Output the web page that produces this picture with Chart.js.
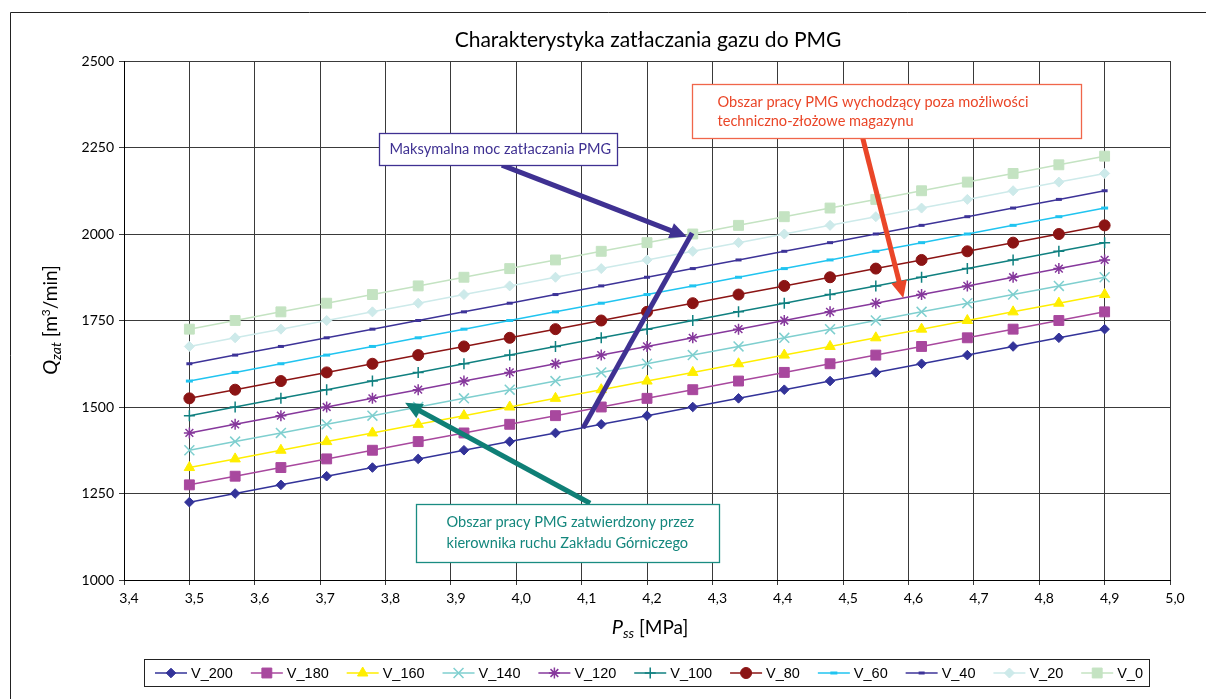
<!DOCTYPE html>
<html>
<head>
<meta charset="utf-8">
<script src="https://cdn.jsdelivr.net/npm/chart.js@4.4.0/dist/chart.umd.min.js"></script>
<style>
  html, body { margin: 0; padding: 0; background: #fff; }
  #wrap { width: 1206px; height: 699px; }
</style>
</head>
<body>
<div id="wrap"><canvas id="chart" width="1206" height="699"></canvas></div>
<script>
// dane
const pressure = [3.50, 3.57, 3.64, 3.71, 3.78, 3.85, 3.92, 3.99, 4.06, 4.13, 4.20,
                  4.27, 4.34, 4.41, 4.48, 4.55, 4.62, 4.69, 4.76, 4.83, 4.90];

const v200 = [1225, 1250, 1275, 1300, 1325, 1350, 1375, 1400, 1425, 1450, 1475, 1500, 1525, 1550, 1575, 1600, 1625, 1650, 1675, 1700, 1725];
const v180 = [1275, 1300, 1325, 1350, 1375, 1400, 1425, 1450, 1475, 1500, 1525, 1550, 1575, 1600, 1625, 1650, 1675, 1700, 1725, 1750, 1775];
const v160 = [1325, 1350, 1375, 1400, 1425, 1450, 1475, 1500, 1525, 1550, 1575, 1600, 1625, 1650, 1675, 1700, 1725, 1750, 1775, 1800, 1825];
const v140 = [1375, 1400, 1425, 1450, 1475, 1500, 1525, 1550, 1575, 1600, 1625, 1650, 1675, 1700, 1725, 1750, 1775, 1800, 1825, 1850, 1875];
const v120 = [1425, 1450, 1475, 1500, 1525, 1550, 1575, 1600, 1625, 1650, 1675, 1700, 1725, 1750, 1775, 1800, 1825, 1850, 1875, 1900, 1925];
const v100 = [1475, 1500, 1525, 1550, 1575, 1600, 1625, 1650, 1675, 1700, 1725, 1750, 1775, 1800, 1825, 1850, 1875, 1900, 1925, 1950, 1975];
const v80  = [1525, 1550, 1575, 1600, 1625, 1650, 1675, 1700, 1725, 1750, 1775, 1800, 1825, 1850, 1875, 1900, 1925, 1950, 1975, 2000, 2025];
const v60  = [1575, 1600, 1625, 1650, 1675, 1700, 1725, 1750, 1775, 1800, 1825, 1850, 1875, 1900, 1925, 1950, 1975, 2000, 2025, 2050, 2075];
const v40  = [1625, 1650, 1675, 1700, 1725, 1750, 1775, 1800, 1825, 1850, 1875, 1900, 1925, 1950, 1975, 2000, 2025, 2050, 2075, 2100, 2125];
const v20  = [1675, 1700, 1725, 1750, 1775, 1800, 1825, 1850, 1875, 1900, 1925, 1950, 1975, 2000, 2025, 2050, 2075, 2100, 2125, 2150, 2175];
const v0   = [1725, 1750, 1775, 1800, 1825, 1850, 1875, 1900, 1925, 1950, 1975, 2000, 2025, 2050, 2075, 2100, 2125, 2150, 2175, 2200, 2225];

const seriesNames = ['V_200', 'V_180', 'V_160', 'V_140', 'V_120', 'V_100', 'V_80', 'V_60', 'V_40', 'V_20', 'V_0'];
const seriesValues = [v200, v180, v160, v140, v120, v100, v80, v60, v40, v20, v0];

const xTickValues = [3.4, 3.5, 3.6, 3.7, 3.8, 3.9, 4.0, 4.1, 4.2, 4.3, 4.4, 4.5, 4.6, 4.7, 4.8, 4.9, 5.0];
const yTickValues = [1000, 1250, 1500, 1750, 2000, 2250, 2500];

const titleText = 'Charakterystyka zatłaczania gazu do PMG';

// wygląd serii
const seriesStyle = [
    { color: '#333399', point: 'rectRot',  r: 4.8, bw: 1 },
    { color: '#a8489e', point: 'rect',     r: 7,   bw: 1 },
    { color: '#ffee00', point: 'triangle', r: 6,   bw: 1 },
    { color: '#7fcfcf', point: 'crossRot', r: 7,   bw: 1.5 },
    { color: '#86389c', point: 'star',     r: 5.5, bw: 1.5 },
    { color: '#108080', point: 'cross',    r: 5.5, bw: 1.5 },
    { color: '#8b1414', point: 'circle',   r: 5.5, bw: 1 },
    { color: '#20c4f0', point: 'line',     r: 3.5, bw: 3 },
    { color: '#3d3398', point: 'line',     r: 3,   bw: 3 },
    { color: '#cdeaea', point: 'rectRot',  r: 5,   bw: 1 },
    { color: '#c4e3c2', point: 'rect',     r: 7,   bw: 1 }
];

// adnotacje (w jednostkach osi: MPa, m3/min)
const notes = [
    {
        box: [3.790, 2292, 4.154, 2199], color: '#3f3192', border: '#3f3192',
        lines: ['Maksymalna moc zatłaczania PMG'], textDx: 10, textY0: 149, lineH: 19,
        arrows: [{ from: [3.978, 2199], to: [4.261, 1992], head: true },
                 { from: [4.269, 2003], to: [4.102, 1439], head: false }]
    },
    {
        box: [4.269, 2433, 4.864, 2277], color: '#ea4628', border: '#f0664a',
        lines: ['Obszar pracy PMG wychodzący poza możliwości', 'techniczno-złożowe magazynu'],
        textDx: 25, textY0: 102, lineH: 19,
        arrows: [{ from: [4.530, 2277], to: [4.592, 1815], head: true }]
    },
    {
        box: [3.847, 1220, 4.310, 1052], color: '#14877d', border: '#1a8c82',
        lines: ['Obszar pracy PMG zatwierdzony przez', 'kierownika ruchu Zakładu Górniczego'],
        textDx: 30, textY0: 522, lineH: 21,
        arrows: [{ from: [4.113, 1222], to: [3.830, 1512], head: true, color: '#0f7f76' }]
    }
];

const FONT = 'Lato, "Open Sans", sans-serif';

function drawArrow(ctx, x1, y1, x2, y2, color, width, head) {
    const ang = Math.atan2(y2 - y1, x2 - x1);
    const hl = head ? 17 : 0, hw = 8;
    const ex = x2 - Math.cos(ang) * hl, ey = y2 - Math.sin(ang) * hl;
    ctx.save();
    ctx.strokeStyle = color;
    ctx.fillStyle = color;
    ctx.lineWidth = width;
    ctx.lineCap = 'butt';
    ctx.beginPath();
    ctx.moveTo(x1, y1);
    ctx.lineTo(head ? ex + Math.cos(ang) * 2 : x2, head ? ey + Math.sin(ang) * 2 : y2);
    ctx.stroke();
    if (head) {
        ctx.beginPath();
        ctx.moveTo(x2, y2);
        ctx.lineTo(ex + Math.sin(ang) * hw, ey - Math.cos(ang) * hw);
        ctx.lineTo(ex - Math.sin(ang) * hw, ey + Math.cos(ang) * hw);
        ctx.closePath();
        ctx.fill();
    }
    ctx.restore();
}

function drawParts(ctx, parts, cx, cy) {
    let total = 0;
    parts.forEach(p => { ctx.font = p.font; p.w = ctx.measureText(p.t).width; total += p.w; });
    let x = cx - total / 2;
    ctx.textBaseline = 'alphabetic';
    ctx.textAlign = 'left';
    parts.forEach(p => {
        ctx.font = p.font;
        ctx.fillText(p.t, x, cy + (p.dy || 0));
        x += p.w;
    });
}

const framePlugin = {
    id: 'frame',
    beforeDraw(chart) {
        const ctx = chart.ctx;
        ctx.save();
        ctx.fillStyle = '#fff';
        ctx.fillRect(0, 0, chart.width, chart.height);
        ctx.strokeStyle = '#222';
        ctx.lineWidth = 1;
        ctx.beginPath();
        ctx.moveTo(10.5, chart.height);
        ctx.lineTo(10.5, 12.5);
        ctx.lineTo(chart.width, 12.5);
        ctx.stroke();
        ctx.restore();
    },
    afterDraw(chart) {
        const ctx = chart.ctx;
        ctx.save();
        ctx.fillStyle = '#000';
        ctx.font = '21px ' + FONT;
        ctx.textAlign = 'center';
        ctx.textBaseline = 'middle';
        ctx.fillText(titleText, 648, 40);

        // oś X
        drawParts(ctx, [
            { t: 'P', font: 'italic 20px ' + FONT },
            { t: 'ss', font: 'italic 14px ' + FONT, dy: 4 },
            { t: ' [MPa]', font: '19px ' + FONT }
        ], 650, 634);

        // oś Y
        ctx.translate(50, 320);
        ctx.rotate(-Math.PI / 2);
        drawParts(ctx, [
            { t: 'Q', font: 'italic 20px ' + FONT },
            { t: 'zat', font: 'italic 14px ' + FONT, dy: 4 },
            { t: ' [m', font: '19px ' + FONT },
            { t: '3', font: '12px ' + FONT, dy: -7 },
            { t: '/min]', font: '19px ' + FONT }
        ], 0, 7);
        ctx.restore();
    }
};

const notesPlugin = {
    id: 'notes',
    afterDraw(chart) {
        const ctx = chart.ctx;
        const sx = chart.scales.x, sy = chart.scales.y;
        notes.forEach(n => {
            n.arrows.forEach(a => {
                drawArrow(ctx, sx.getPixelForValue(a.from[0]), sy.getPixelForValue(a.from[1]),
                    sx.getPixelForValue(a.to[0]), sy.getPixelForValue(a.to[1]),
                    a.color || n.color, 5, a.head);
            });
        });
        notes.forEach(n => {
            const l = Math.round(sx.getPixelForValue(n.box[0])) + 0.5;
            const t = Math.round(sy.getPixelForValue(n.box[1])) + 0.5;
            const r = Math.round(sx.getPixelForValue(n.box[2])) + 0.5;
            const b = Math.round(sy.getPixelForValue(n.box[3])) + 0.5;
            ctx.save();
            ctx.fillStyle = '#fff';
            ctx.fillRect(l, t, r - l, b - t);
            ctx.strokeStyle = n.border;
            ctx.lineWidth = 1.3;
            ctx.strokeRect(l, t, r - l, b - t);
            ctx.fillStyle = n.color;
            ctx.font = '14.6px ' + FONT;
            ctx.textAlign = 'left';
            ctx.textBaseline = 'middle';
            n.lines.forEach((s, i) => ctx.fillText(s, l + n.textDx, n.textY0 + i * n.lineH));
            ctx.restore();
        });
    }
};

const legendPlugin = {
    id: 'excelLegend',
    afterDraw(chart) {
        const ctx = chart.ctx;
        const boxL = 144.5, boxR = 1149.5, boxT = 659.5, boxB = 686.5;
        ctx.save();
        ctx.fillStyle = '#fff';
        ctx.fillRect(boxL, boxT, boxR - boxL, boxB - boxT);
        ctx.strokeStyle = '#222';
        ctx.lineWidth = 1;
        ctx.strokeRect(boxL, boxT, boxR - boxL, boxB - boxT);
        ctx.font = '14.5px "Liberation Sans", Arial, sans-serif';
        const lineW = 32, gap = 4;
        const widths = seriesNames.map(s => ctx.measureText(s).width);
        const natural = widths.reduce((a, w) => a + lineW + gap + w, 0);
        const start = 155, end = 1143;
        const spacing = (end - start - natural) / (seriesNames.length - 1);
        const cy = (boxT + boxB) / 2;
        let x = start;
        seriesNames.forEach((name, i) => {
            const st = seriesStyle[i];
            ctx.strokeStyle = st.color;
            ctx.lineWidth = 1.5;
            ctx.beginPath();
            ctx.moveTo(x, cy);
            ctx.lineTo(x + lineW, cy);
            ctx.stroke();
            ctx.fillStyle = st.color;
            ctx.lineWidth = st.bw;
            Chart.helpers.drawPoint(ctx, { pointStyle: st.point, radius: st.r, borderWidth: st.bw, rotation: 0 }, x + lineW / 2, cy);
            ctx.fillStyle = '#000';
            ctx.textAlign = 'left';
            ctx.textBaseline = 'middle';
            ctx.fillText(name, x + lineW + gap, cy + 1);
            x += lineW + gap + widths[i] + spacing;
        });
        ctx.restore();
    }
};

const ctx = document.getElementById('chart').getContext('2d');

new Chart(ctx, {
    type: 'line',
    data: {
        datasets: seriesNames.map((name, i) => ({
            label: name,
            data: pressure.map((p, j) => ({ x: p, y: seriesValues[i][j] })),
            borderColor: seriesStyle[i].color,
            backgroundColor: seriesStyle[i].color,
            borderWidth: 1.5,
            pointStyle: seriesStyle[i].point,
            pointRadius: seriesStyle[i].r,
            pointBorderWidth: seriesStyle[i].bw,
            pointBackgroundColor: seriesStyle[i].color,
            pointBorderColor: seriesStyle[i].color,
            fill: false,
            tension: 0
        }))
    },
    options: {
        responsive: false,
        animation: false,
        devicePixelRatio: 1,
        layout: { padding: { left: 0, top: 61, right: 36, bottom: 0 } },
        plugins: {
            legend: { display: false },
            title: { display: false },
            tooltip: { enabled: false }
        },
        scales: {
            x: {
                type: 'linear',
                min: 3.4,
                max: 5.0,
                afterBuildTicks: s => { s.ticks = xTickValues.map(v => ({ value: v })); },
                afterFit: s => { s.height = 119; },
                grid: { color: '#3a3a3a', lineWidth: 1, tickLength: 5, tickColor: '#3a3a3a' },
                border: { color: '#000', width: 1 },
                ticks: {
                    padding: 5,
                    labelOffset: 5,
                    color: '#000',
                    maxRotation: 0,
                    font: { family: FONT, size: 14 },
                    callback: v => v.toFixed(1).replace('.', ',')
                }
            },
            y: {
                min: 1000,
                max: 2500,
                afterBuildTicks: s => { s.ticks = yTickValues.map(v => ({ value: v })); },
                afterFit: s => { s.width = 124; },
                grid: { color: '#3a3a3a', lineWidth: 1, tickLength: 5, tickColor: '#3a3a3a' },
                border: { color: '#000', width: 1 },
                ticks: {
                    padding: 5,
                    color: '#000',
                    font: { family: FONT, size: 14 },
                    callback: v => String(v)
                }
            }
        }
    },
    plugins: [framePlugin, notesPlugin, legendPlugin]
});
</script>
</body>
</html>
